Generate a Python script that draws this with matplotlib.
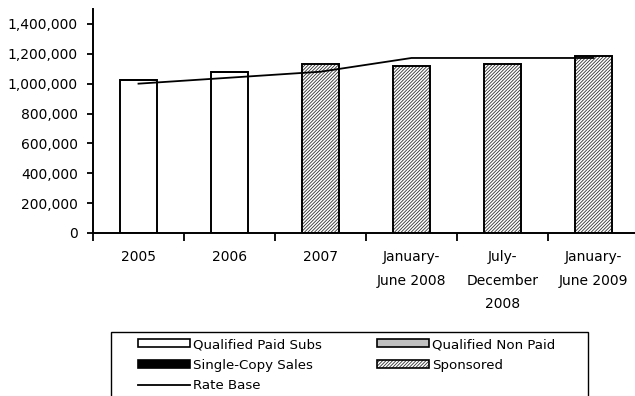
"""Circulation bars vs rate base."""

import numpy as np
import matplotlib
matplotlib.use("Agg")
import matplotlib.pyplot as plt
from matplotlib.patches import Patch, Rectangle
from matplotlib.lines import Line2D
from matplotlib.ticker import FuncFormatter

categories = ["2005", "2006", "2007", "January-\nJune 2008",
              "July-\nDecember\n2008", "January-\nJune 2009"]
paid_subs = [1025000, 1080000, 0, 0, 0, 0]
non_paid = [0, 0, 0, 0, 0, 0]
single_copy = [0, 0, 0, 0, 0, 0]
sponsored = [0, 0, 1132000, 1119000, 1132000, 1186000]
rate_base = [1000000, 1040000, 1080000, 1172000, 1172000, 1172000]

###################################################################################################

def main():

    plt.rcParams['font.family'] = ['DejaVu Sans']
    plt.rcParams['hatch.linewidth'] = 0.6
    fig = plt.figure(figsize=(6.35, 3.96), dpi=100)
    W, H = 635.0, 396.0
    ax = fig.add_axes([93 / W, 1 - 233 / H, 546 / W, 224 / H])

    x = np.arange(len(categories))
    bw = 0.4
    edge = dict(edgecolor='black', linewidth=1.4)
    hatch = '//////////'

    bottom = np.zeros(len(x))
    ax.bar(x, paid_subs, bw, bottom=bottom, facecolor='white', **edge)
    bottom += paid_subs
    ax.bar(x, non_paid, bw, bottom=bottom, facecolor='#c0c0c0', **edge)
    bottom += non_paid
    ax.bar(x, single_copy, bw, bottom=bottom, facecolor='black', **edge)
    bottom += single_copy
    # hatch layer in grey, then a black outline on top
    ax.bar(x, sponsored, bw, bottom=bottom, facecolor='white',
           edgecolor='#303030', linewidth=0, hatch=hatch)
    ax.bar(x, sponsored, bw, bottom=bottom, fill=False, **edge)

    ax.plot(x, rate_base, color='black', linewidth=1.3)

    ax.set_xlim(-0.5, len(x) - 0.5)
    ax.set_ylim(0, 1500000)
    ax.set_yticks(np.arange(0, 1400001, 200000))
    ax.yaxis.set_major_formatter(FuncFormatter(lambda v, p: f"{int(v):,}"))

    ax.set_xticks(x)
    ax.set_xticklabels(categories, linespacing=1.9)
    ax.set_xticks(np.arange(len(x)) - 0.5, minor=True)
    ax.tick_params(axis='x', which='major', length=0, pad=12, labelsize=10)
    ax.tick_params(axis='x', which='minor', length=6, width=1.3, direction='out')
    ax.tick_params(axis='y', length=4, width=1.3, direction='out', pad=7, labelsize=10)

    for s in ['top', 'right']:
        ax.spines[s].set_visible(False)
    for s in ['left', 'bottom']:
        ax.spines[s].set_linewidth(1.4)

    # legend frame (cut off at the bottom of the picture)
    fig.patches.append(Rectangle((111 / W, -0.05), (588 - 111) / W, 0.05 + (1 - 332 / H),
                                 transform=fig.transFigure, fill=False,
                                 edgecolor='black', linewidth=1.0))

    h_paid = Patch(facecolor='white', edgecolor='black', linewidth=1.2)
    h_non = Patch(facecolor='#c0c0c0', edgecolor='black', linewidth=1.2)
    h_single = Patch(facecolor='black', edgecolor='black', linewidth=1.2)
    h_spons = (Patch(facecolor='white', edgecolor='#303030', linewidth=0, hatch=hatch),
               Patch(fill=False, edgecolor='black', linewidth=1.2))
    h_rate = Line2D([], [], color='black', linewidth=1.3)

    leg_kw = dict(loc='upper left', frameon=False, fontsize=9.6, borderpad=0,
                  borderaxespad=0, handlelength=3.9, handleheight=0.55,
                  handletextpad=0.25, labelspacing=0.58)
    fig.legend([h_paid, h_single, h_rate],
               ["Qualified Paid Subs", "Single-Copy Sales", "Rate Base"],
               bbox_to_anchor=(138 / W, 1 - 338 / H), **leg_kw)
    fig.legend([h_non, h_spons], ["Qualified Non Paid", "Sponsored"],
               bbox_to_anchor=(377 / W, 1 - 338 / H), **leg_kw)

    plt.savefig('out.png', dpi=100)


if __name__ == "__main__":
    main()
